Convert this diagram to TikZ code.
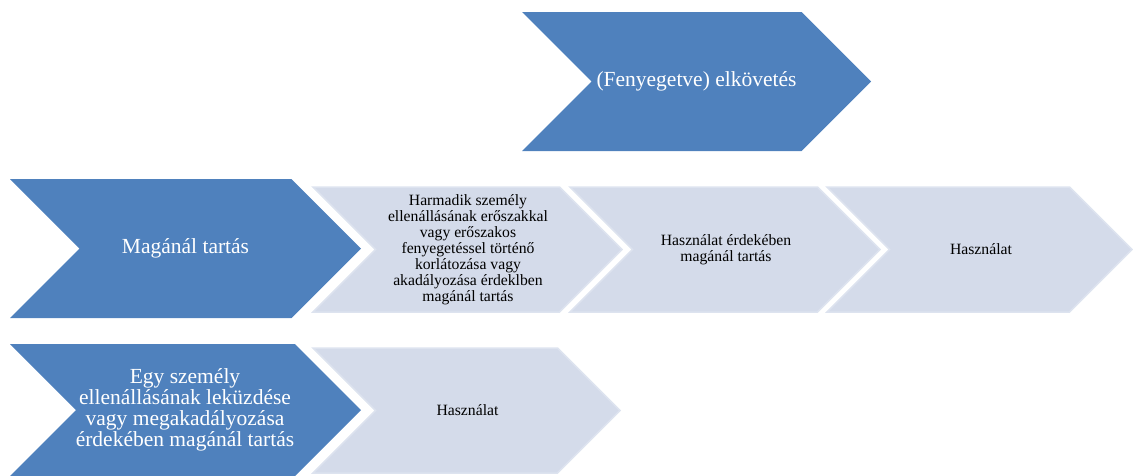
\documentclass[tikz,border=0pt]{standalone}
\usepackage{fontspec}
\setmainfont{Liberation Serif}
\definecolor{darkblue}{HTML}{4F81BD}
\definecolor{lightfill}{HTML}{D4DBEA}
\definecolor{lightedge}{HTML}{DDE3EF}
\newcommand\chevronshape[5]{% style, left, top, tip, bottom
  \path[#1] (#2,#3) -- ({#4-(#5-#3)/2},#3) -- (#4,{(#3+#5)/2})
    -- ({#4-(#5-#3)/2},#5) -- (#2,#5) -- ({#2+(#5-#3)/2},{(#3+#5)/2}) -- cycle;}
\tikzset{
  darkchev/.style={fill=darkblue},
  lightchev/.style={fill=lightfill, draw=lightedge, line width=1.5pt, line join=miter},
  darktext/.style={text=white, align=center, inner sep=0pt, font=\fontsize{21.5}{21}\selectfont},
  lighttext/.style={text=black, align=center, inner sep=0pt, font=\fontsize{15.7}{16}\selectfont},
}
\begin{document}
\begin{tikzpicture}[x=1pt, y=-1pt]
\useasboundingbox (0,0) rectangle (1133,475);
% shapes
\chevronshape{darkchev}{522}{12}{871}{151}
\chevronshape{darkchev}{10}{179}{361}{318}
\chevronshape{darkchev}{10}{344}{361}{476}
\chevronshape{lightchev}{313}{187}{622}{312}
\chevronshape{lightchev}{570}{187}{880}{312}
\chevronshape{lightchev}{827}{187}{1132}{312}
\chevronshape{lightchev}{313}{348}{620}{473}
% texts
\node[darktext] (top) at (696.5,81.5) {(Fenyegetve) elkövetés};
\node[darktext] (mag) at (185.5,248.5) {Magánál tartás};
\node[darktext] (egy) at (185,410) {Egy személy\\ellenállásának leküzdése\\vagy megakadályozása\\érdekében magánál tartás};
\node[lighttext] (harm) at (468,250) {Harmadik személy\\ellenállásának erőszakkal\\vagy erőszakos\\fenyegetéssel történő\\korlátozása vagy\\akadályozása érdeklben\\magánál tartás};
\node[lighttext] (hasz1) at (726,249.5) {Használat érdekében\\magánál tartás};
\node[lighttext] (hasz2) at (981,249.5) {Használat};
\node[lighttext] (hasz3) at (467.5,410.5) {Használat};
\end{tikzpicture}
\end{document}
